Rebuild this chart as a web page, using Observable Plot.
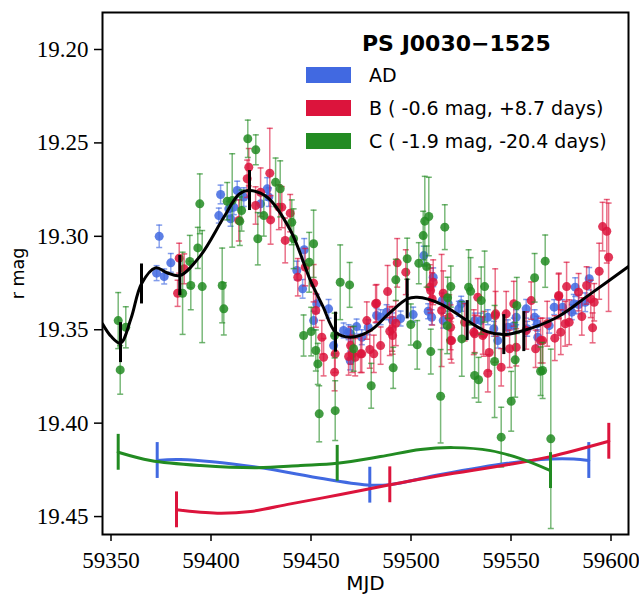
<!DOCTYPE html>
<html><head><meta charset="utf-8">
<script src="https://cdn.jsdelivr.net/npm/d3@7"></script>
<script src="https://cdn.jsdelivr.net/npm/@observablehq/plot@0.6"></script>
<style>
body{margin:0;background:#fff;}
#wrap{position:relative;width:639px;height:596px;}
.lt{position:absolute;font-family:"DejaVu Sans";font-size:19px;line-height:20px;color:#000;white-space:nowrap;}
.lp{position:absolute;width:45px;height:16px;}
.ttl{position:absolute;font-family:"DejaVu Sans";font-weight:bold;font-size:22px;line-height:22px;color:#000;white-space:nowrap;}
</style></head><body>
<div id="wrap"></div>
<script>
// ---- data ----
const seriesNames = ["AD", "B ( -0.6 mag, +8.7 days)", "C ( -1.9 mag, -20.4 days)"];
const seriesColors = ["#4169e1", "#dc143c", "#228b22"];
const titleText = "PS J0030\u22121525";
const xTicks = [59350, 59400, 59450, 59500, 59550, 59600];
const yTicks = [19.20, 19.25, 19.30, 19.35, 19.40, 19.45];

// [MJD, r mag, error]
const adData = [
 [59374.1,19.300,0.006],[59372.8,19.3197,0.004],[59376.6,19.3215,0.004],[59379.9,19.3142,0.005],
 [59404.8,19.2776,0.005],[59403.9,19.2889,0.004],[59409.8,19.2906,0.004],[59413.1,19.2755,0.005],
 [59416.4,19.279,0.005],[59424.8,19.2826,0.005],[59428.1,19.2746,0.006],[59428.9,19.279,0.005],
 [59408.9,19.2853,0.004],[59411.4,19.2844,0.004],[59446.6,19.3072,0.006],[59442.9,19.3183,0.005],
 [59445.8,19.3281,0.005],[59452.9,19.3361,0.005],[59451.3,19.3451,0.005],[59458.8,19.3388,0.005],
 [59461.3,19.3585,0.005],[59468.8,19.3513,0.004],[59469.6,19.3665,0.005],[59475.4,19.354,0.004],
 [59482.8,19.3424,0.004],[59478.6,19.3487,0.004],[59487.8,19.3406,0.004],[59506.4,19.3103,0.005],
 [59501.1,19.3419,0.004],[59508.6,19.3401,0.004],[59510.3,19.3433,0.004],[59516.1,19.3451,0.004],
 [59518.6,19.3361,0.004],[59511.1,19.3219,0.005],[59525.1,19.3361,0.004],[59538.4,19.3433,0.004],
 [59543.4,19.3558,0.004],[59552.6,19.3433,0.004],[59557.6,19.3388,0.005],[59561.8,19.3433,0.004],
 [59548.4,19.3487,0.004],[59563.4,19.354,0.004],[59531.8,19.3451,0.004],[59589.1,19.3227,0.006],
 [59582.1,19.3272,0.005],[59583.8,19.3365,0.005],[59575.8,19.3379,0.004],[59571.6,19.3379,0.004],
 [59580.4,19.3406,0.004],[59569.1,19.3478,0.004],[59587.1,19.3353,0.005],[59466.3,19.3504,0.004],
 [59472.8,19.3483,0.004],[59490.8,19.345,0.004],[59494.8,19.344,0.004],
 [59469.8,19.3522,0.004],[59484.8,19.3433,0.004],[59515.6,19.3344,0.004],[59523.9,19.3388,0.004],
 [59534.8,19.3451,0.004],[59541.4,19.3495,0.004],[59551.4,19.3478,0.004],[59558.1,19.3495,0.004],
 [59563.1,19.3468,0.004],[59581.4,19.3361,0.005]
];
const bData = [
 [59384.1,19.3117,0.008],[59386.6,19.3174,0.008],[59383.3,19.3305,0.007],[59418.1,19.2692,0.010],
 [59418.9,19.263,0.010],[59424.8,19.2764,0.013],[59429.4,19.2662,0.024],[59429.8,19.2912,0.013],
 [59413.9,19.2915,0.011],[59433.9,19.2844,0.012],[59422.3,19.2835,0.010],[59435.4,19.2844,0.011],
 [59439.6,19.2876,0.010],[59437.1,19.3022,0.012],[59447.1,19.3165,0.010],[59451.3,19.3251,0.010],
 [59443.4,19.3219,0.010],[59452.4,19.3397,0.009],[59455.4,19.354,0.009],[59456.3,19.3647,0.010],
 [59462.1,19.3629,0.010],[59461.8,19.3727,0.010],[59468.8,19.3643,0.010],[59472.1,19.3647,0.010],
 [59475.4,19.3629,0.010],[59477.9,19.3451,0.010],[59493.1,19.3142,0.013],[59488.3,19.3296,0.014],
 [59482.8,19.3358,0.010],[59479.4,19.3606,0.010],[59489.4,19.3508,0.013],[59492.4,19.3465,0.012],
 [59497.4,19.3192,0.012],[59509.4,19.3272,0.012],[59511.1,19.3246,0.012],[59515.3,19.3397,0.030],
 [59516.1,19.3305,0.012],[59520.3,19.3558,0.012],[59519.1,19.3433,0.012],[59542.1,19.3424,0.025],
 [59547.6,19.3415,0.012],[59538.4,19.3733,0.010],[59545.1,19.3701,0.010],[59539.1,19.3622,0.010],
 [59549.3,19.3602,0.010],[59560.1,19.3344,0.010],[59562.3,19.3602,0.010],[59531.8,19.3522,0.010],
 [59533.4,19.3326,0.010],[59526.8,19.346,0.010],[59557.6,19.3504,0.010],[59552.6,19.3594,0.010],
 [59535.9,19.3531,0.010],[59595.8,19.2948,0.013],[59597.9,19.2973,0.017],[59598.8,19.3112,0.029],
 [59594.1,19.3187,0.015],[59591.6,19.3353,0.010],[59589.9,19.3335,0.010],[59590.8,19.349,0.008],
 [59585.4,19.3429,0.010],[59583.8,19.3299,0.010],[59587.8,19.3263,0.010],[59577.8,19.3269,0.013],
 [59573.8,19.3322,0.012],[59579.1,19.346,0.012],[59577.1,19.3468,0.012],[59574.9,19.3513,0.012],
 [59571.9,19.3545,0.012],[59565.8,19.3558,0.012],[59469.8,19.3585,0.010],[59484.8,19.3585,0.010],
 [59490.8,19.3531,0.010],
 [59482.3,19.3361,0.010],[59490.6,19.3495,0.012],[59470.6,19.3629,0.010],[59474.8,19.3629,0.010],
 [59481.4,19.3629,0.010],[59509.8,19.329,0.012],[59510.6,19.3335,0.014],[59519.8,19.3487,0.012],
 [59519.8,19.3558,0.010],[59531.4,19.3513,0.012],[59536.4,19.3522,0.012],[59542.3,19.3415,0.012],
 [59551.4,19.3361,0.012],[59564.8,19.3558,0.012],[59568.1,19.3468,0.012],[59573.9,19.3317,0.012]
];
const cData = [
 [59353.6,19.3451,0.015],[59357.4,19.3487,0.011],[59354.6,19.3715,0.013],[59385.8,19.3305,0.022],
 [59389.4,19.3135,0.014],[59389.9,19.3263,0.013],[59418.4,19.2478,0.010],[59422.4,19.2537,0.008],
 [59394.4,19.2826,0.016],[59393.4,19.3062,0.011],[59395.6,19.3269,0.030],[59405.6,19.3263,0.020],
 [59406.4,19.3388,0.014],[59410.6,19.2808,0.025],[59414.4,19.2919,0.013],[59415.3,19.2862,0.011],
 [59423.4,19.3013,0.014],[59426.4,19.2889,0.011],[59432.3,19.2711,0.013],[59408.1,19.2812,0.010],
 [59434.6,19.2746,0.015],[59440.4,19.2925,0.012],[59441.3,19.3013,0.016],[59451.3,19.304,0.018],
 [59449.1,19.3139,0.016],[59446.3,19.3531,0.011],[59450.1,19.351,0.013],[59452.4,19.3611,0.011],
 [59453.4,19.3683,0.011],[59454.1,19.395,0.015],[59464.6,19.3246,0.020],[59469.3,19.326,0.012],
 [59462.1,19.3933,0.016],[59461.8,19.3531,0.012],[59471.3,19.3602,0.012],[59506.9,19.2919,0.024],
 [59508.9,19.2894,0.021],[59506.1,19.2996,0.013],[59516.9,19.2951,0.012],[59498.1,19.312,0.011],
 [59503.9,19.3144,0.011],[59507.8,19.3162,0.011],[59492.4,19.3233,0.011],[59499.9,19.3472,0.011],
 [59503.1,19.3581,0.013],[59509.9,19.3617,0.012],[59514.8,19.3856,0.025],[59491.1,19.3704,0.011],
 [59480.1,19.38,0.012],[59519.9,19.3269,0.011],[59518.3,19.3329,0.011],[59528.8,19.3272,0.020],
 [59529.8,19.3294,0.018],[59536.8,19.3269,0.019],[59535.1,19.3344,0.018],[59531.8,19.3745,0.012],
 [59533.8,19.3768,0.012],[59541.8,19.367,0.030],[59545.1,19.4075,0.016],[59550.1,19.3883,0.016],
 [59552.1,19.3661,0.020],[59561.8,19.3222,0.013],[59552.9,19.337,0.015],[59564.8,19.3722,0.013],
 [59525.4,19.3549,0.020],[59567.1,19.3133,0.014],[59569.9,19.4084,0.048],[59565.8,19.3718,0.015],
 [59518.1,19.3478,0.015]
];

// intrinsic model curve
const modelMJD = [59345.75,59350,59354.75,59360,59365.25,59372.25,59378,59384.4,59394.75,59406.4,59414,59419.25,59428.1,59439.75,59449.75,59456,59462.25,59469.75,59479.75,59489,59498.1,59503.1,59514.75,59528.1,59538,59546.4,59556.4,59573.1,59589.75,59608.75];
const modelMag = [19.3468,19.3535,19.3572,19.344,19.3254,19.3169,19.3195,19.3210,19.3103,19.2898,19.2775,19.2755,19.2791,19.2969,19.3237,19.3376,19.3513,19.3540,19.3504,19.3413,19.3335,19.3326,19.3361,19.3451,19.351,19.3526,19.3504,19.3433,19.3308,19.3162];
const knotMJD = [59354.75,59365.25,59384.4,59419.25,59462.25,59498.1,59528.1,59546.4,59556.4];
const knotMag = [19.3569,19.3255,19.321,19.2755,19.3513,19.3335,19.3451,19.3526,19.351];

// microlensing curves
const adMicroMJD = [59373.1,59384.75,59423.1,59456.4,59479.4,59489.25,59514.75,59548.1,59569.75,59581.4,59588.9];
const adMicroMag = [19.4200,19.4195,19.4236,19.4298,19.4332,19.4329,19.4275,19.4215,19.4192,19.4192,19.4200];
const adMicroTickMJD = [59373.1,59479.4,59588.9];
const adMicroTickMag = [19.4200,19.4332,19.4200];
const bMicroMJD = [59382.75,59403.1,59419.75,59439.75,59464.75,59489.4,59514.75,59548.1,59569.75,59598.9];
const bMicroMag = [19.4464,19.4482,19.4473,19.4432,19.4382,19.4330,19.4280,19.4223,19.4179,19.4097];
const bMicroTickMJD = [59382.75,59489.4,59598.9];
const bMicroTickMag = [19.4464,19.4330,19.4097];
const cMicroMJD = [59353.6,59369.75,59394.75,59423.1,59444.75,59463.1,59484.75,59504.75,59521.25,59539.75,59554.75,59569.75];
const cMicroMag = [19.4156,19.4200,19.4227,19.4239,19.4227,19.4215,19.4179,19.4141,19.4131,19.4147,19.4190,19.4254];
const cMicroTickMJD = [59353.6,59463.1,59569.75];
const cMicroTickMag = [19.4156,19.4215,19.4254];

// ---- build ----
const toRows = arr => arr.map(([t, m, e]) => ({t, m, e}));
const zip = (a, b) => a.map((t, i) => ({t, m: b[i]}));
const capSymbol = {draw(ctx, size) { const w = Math.sqrt(size / Math.PI); ctx.moveTo(-w, 0); ctx.lineTo(w, 0); }};

const series = [toRows(adData), toRows(bData), toRows(cData)];
const micro = [
  [zip(adMicroMJD, adMicroMag), zip(adMicroTickMJD, adMicroTickMag)],
  [zip(bMicroMJD, bMicroMag), zip(bMicroTickMJD, bMicroTickMag)],
  [zip(cMicroMJD, cMicroMag), zip(cMicroTickMJD, cMicroTickMag)]
];

const marks = [];
series.forEach((rows, i) => {
  const c = seriesColors[i];
  marks.push(Plot.ruleX(rows, {x: "t", y1: d => d.m - d.e, y2: d => d.m + d.e, stroke: c, strokeOpacity: 0.6, strokeWidth: 1.5}));
  marks.push(Plot.dot(rows, {x: "t", y: d => d.m - d.e, symbol: capSymbol, r: 3, fill: "none", stroke: c, strokeOpacity: 0.65, strokeWidth: 1.5}));
  marks.push(Plot.dot(rows, {x: "t", y: d => d.m + d.e, symbol: capSymbol, r: 3, fill: "none", stroke: c, strokeOpacity: 0.65, strokeWidth: 1.5}));
  marks.push(Plot.dot(rows, {x: "t", y: "m", r: 4.5, fill: c, fillOpacity: 0.85, stroke: "none"}));
});
marks.push(Plot.line(zip(modelMJD, modelMag), {x: "t", y: "m", curve: "catmull-rom", stroke: "black", strokeWidth: 3, clip: true}));
marks.push(Plot.ruleX(zip(knotMJD, knotMag), {x: "t", y1: d => d.m - 0.0107, y2: d => d.m + 0.0107, stroke: "black", strokeWidth: 3}));
micro.forEach(([line, ticks], i) => {
  const c = seriesColors[i];
  marks.push(Plot.line(line, {x: "t", y: "m", curve: "catmull-rom", stroke: c, strokeWidth: 3}));
  marks.push(Plot.ruleX(ticks, {x: "t", y1: d => d.m - 0.0096, y2: d => d.m + 0.0096, stroke: c, strokeWidth: 3}));
});
marks.push(Plot.axisX({ticks: xTicks, tickFormat: d => String(d), tickSize: 7, tickPadding: 10, strokeWidth: 1.5, label: null}));
marks.push(Plot.axisY({ticks: yTicks, tickFormat: d => d.toFixed(2), tickSize: 8, tickPadding: 6, strokeWidth: 1.5, label: null}));
marks.push(Plot.frame({stroke: "black", strokeWidth: 2}));
marks.push(Plot.text(["r mag"], {frameAnchor: "left", dx: -84, rotate: -90, textAnchor: "middle", lineAnchor: "middle", fontFamily: "DejaVu Sans", fontSize: 17.5}));
marks.push(Plot.text(["MJD"], {frameAnchor: "bottom", dy: 49, textAnchor: "middle", lineAnchor: "middle", fontFamily: "DejaVu Sans", fontSize: 20}));

const chart = Plot.plot({
  width: 639, height: 596,
  marginLeft: 102, marginRight: 11, marginTop: 12, marginBottom: 62,
  x: {domain: [59345.75, 59608.75]},
  y: {domain: [19.1802, 19.4596], reverse: true},
  style: {fontFamily: "Liberation Serif", fontSize: "23px", background: "white", color: "black"},
  marks
});
const wrap = document.getElementById("wrap");
wrap.appendChild(chart);

// legend overlay
const ttl = document.createElement("div");
ttl.className = "ttl"; ttl.textContent = titleText;
ttl.style.left = "362px"; ttl.style.top = "33px";
wrap.appendChild(ttl);
seriesNames.forEach((name, i) => {
  const p = document.createElement("div");
  p.className = "lp"; p.style.background = seriesColors[i];
  p.style.left = "306px"; p.style.top = (67 + 33 * i) + "px";
  wrap.appendChild(p);
  const t = document.createElement("div");
  t.className = "lt"; t.textContent = name;
  t.style.left = "369px"; t.style.top = (65 + 33 * i) + "px";
  wrap.appendChild(t);
});
</script>
</body></html>
